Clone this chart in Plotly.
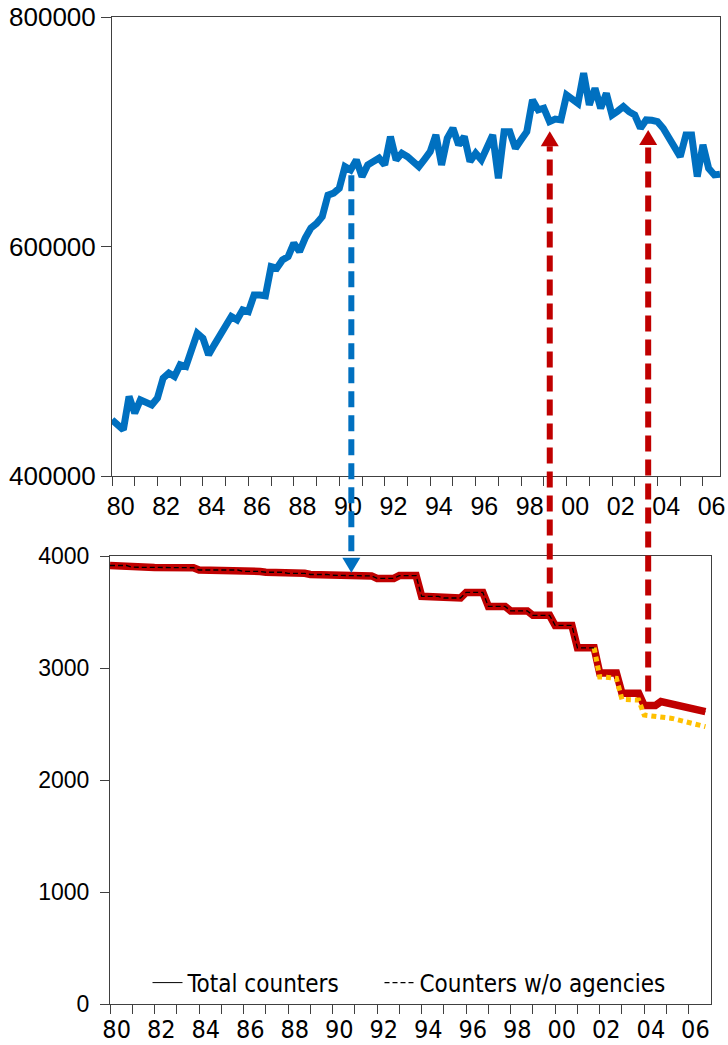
import plotly.graph_objects as go

# the page body margin is removed (see write_html below), so figure == page
PAGE_OFF = 0
FW, FH = 728 - PAGE_OFF, 1045 - PAGE_OFF

# ---------------- data ----------------
# quarterly time axis 1980Q1 .. 2006Q4
quarters = [1980 + k / 4 for k in range(108)]

top_values = [
    449000, 445000, 440300, 469300, 454800, 466400, 464500, 462000,
    467900, 485300, 489700, 486700, 496900, 495400, 510000, 524400,
    520100, 505600, 514300, 523000, 531000, 539000, 536100, 544800,
    543300, 557700, 557700, 557000, 582500, 581100, 588300, 591200,
    602900, 595600, 607300, 616000, 620000, 626000, 644800, 646500,
    650800, 669600, 666700, 675500, 660900, 671100, 674000, 677000,
    671100, 695800, 675500, 681300, 678300, 674000, 669600, 676000,
    682700, 697200, 671100, 694400, 703100, 688500, 695800, 674000,
    681300, 675500, 686000, 697200, 659500, 700100, 700100, 685600,
    693000, 700100, 727700, 719000, 720500, 708800, 711000, 710300,
    732100, 728000, 724800, 751000, 723400, 737900, 720500, 733500,
    714600, 718000, 721900, 717500, 714600, 703100, 710300, 710000,
    708800, 703100, 694400, 687000, 678300, 697200, 697200, 660900,
    688500, 668200, 662400, 663000,
]

total_counters = [
    3915, 3915, 3915, 3915, 3900, 3900, 3900, 3900,
    3898, 3898, 3898, 3898, 3895, 3895, 3895, 3895,
    3875, 3875, 3875, 3875, 3875, 3875, 3875, 3875,
    3862, 3862, 3862, 3862, 3855, 3855, 3855, 3855,
    3845, 3845, 3845, 3845, 3835, 3835, 3835, 3835,
    3828, 3828, 3828, 3828, 3822, 3822, 3822, 3822,
    3800, 3800, 3800, 3800, 3825, 3825, 3825, 3825,
    3640, 3640, 3640, 3640, 3625, 3625, 3625, 3625,
    3675, 3675, 3675, 3675, 3550, 3550, 3550, 3550,
    3510, 3510, 3510, 3510, 3470, 3470, 3470, 3470,
    3380, 3380, 3380, 3380, 3180, 3180, 3180, 3180,
    2955, 2955, 2955, 2955, 2775, 2775, 2775, 2775,
    2665, 2665, 2665, 2700, 2690, 2680, 2665, 2650,
    2635, 2625, 2615, 2610,
]

counters_wo_agencies = [
    3915, 3915, 3915, 3915, 3900, 3900, 3900, 3900,
    3898, 3898, 3898, 3898, 3895, 3895, 3895, 3895,
    3875, 3875, 3875, 3875, 3875, 3875, 3875, 3875,
    3862, 3862, 3862, 3862, 3855, 3855, 3855, 3855,
    3845, 3845, 3845, 3845, 3835, 3835, 3835, 3835,
    3828, 3828, 3828, 3828, 3822, 3822, 3822, 3822,
    3800, 3800, 3800, 3800, 3825, 3825, 3825, 3825,
    3640, 3640, 3640, 3640, 3625, 3625, 3625, 3625,
    3675, 3675, 3675, 3675, 3550, 3550, 3550, 3550,
    3510, 3510, 3510, 3510, 3470, 3470, 3470, 3470,
    3380, 3380, 3380, 3380, 3180, 3180, 3180, 3180,
    2920, 2918, 2912, 2907, 2720, 2718, 2716, 2714,
    2580, 2575, 2570, 2565, 2560, 2550, 2538, 2525,
    2510, 2498, 2487, 2476,
]
split_index = 87  # 2001Q4: where the agencies series departs from total

year_ticks = list(range(1980, 2007))
label_years = list(range(1980, 2007, 2))
label_text = [f"{y % 100:02d}" for y in label_years]

top_yticks = [400000, 600000, 800000]
bot_yticks = [0, 1000, 2000, 3000, 4000]

# arrows: (year, from-panel, from-value, to-panel, to-value, color)
arrows = [
    (1990.53, "top", 662000, "bot", 3850, "#0070C0"),
    (1999.26, "bot", 3540, "top", 700500, "#C00000"),
    (2003.59, "bot", 2790, "top", 701500, "#C00000"),
]


# ---------------- layout geometry (page pixels -> paper) ----------------
def px_x(p):
    return (p - PAGE_OFF) / FW


def px_y(p):
    return 1 - (p - PAGE_OFF) / FH


top_xdom = [px_x(112), px_x(720)]
top_ydom = [px_y(476), px_y(17)]
bot_xdom = [px_x(110), px_x(711)]
bot_ydom = [px_y(1004), px_y(556)]
top_xrange = [1980, 2006.75]
bot_xrange = [1980, 2007]
top_yrange = [400000, 800000]
bot_yrange = [0, 4000]

AX = "#404040"
FONT = "Liberation Sans, Arial, sans-serif"
NARROW = "DejaVu Sans Condensed, Liberation Sans Narrow, sans-serif"

fig = go.Figure()

fig.add_trace(go.Scatter(
    x=quarters, y=top_values, mode="lines",
    line=dict(color="#0070C0", width=7), showlegend=False,
    xaxis="x", yaxis="y"))

# legend carrier: thin black solid total (hidden beneath red)
fig.add_trace(go.Scatter(
    x=quarters, y=total_counters, mode="lines", name="Total counters",
    line=dict(color="black", width=1), xaxis="x2", yaxis="y2", legend="legend"))
fig.add_trace(go.Scatter(
    x=quarters, y=total_counters, mode="lines",
    line=dict(color="#C00000", width=7.5), showlegend=False,
    xaxis="x2", yaxis="y2"))
fig.add_trace(go.Scatter(
    x=quarters[split_index:], y=counters_wo_agencies[split_index:], mode="lines",
    line=dict(color="#FFC000", width=5, dash="5px,4px"), showlegend=False,
    xaxis="x2", yaxis="y2"))
fig.add_trace(go.Scatter(
    x=quarters[:split_index + 1], y=counters_wo_agencies[:split_index + 1], mode="lines",
    name="Counters w/o agencies",
    line=dict(color="black", width=1.3, dash="5px,3px"), xaxis="x2", yaxis="y2",
    legend="legend2"))


def xaxis_cfg(dom, rng, anchor, offset, font, pad):
    return dict(
        domain=dom, range=rng, anchor=anchor, showgrid=False, zeroline=False,
        automargin=False, ticklabeloverflow="allow",
        showline=True, linecolor=AX, linewidth=1, mirror=True,
        tickmode="array", tickvals=[y + offset for y in label_years], ticktext=label_text,
        ticks="outside", ticklen=pad, tickcolor="rgba(0,0,0,0)",
        tickfont=font,
        minor=dict(tickmode="array", tickvals=year_ticks, ticks="outside",
                   ticklen=9, tickcolor=AX, tickwidth=1, showgrid=False),
    )


legend_common = dict(orientation="h", xanchor="left", yanchor="middle",
                     font=dict(family=NARROW, size=24), bgcolor="rgba(0,0,0,0)")

fig.update_layout(
    width=FW, height=FH, autosize=False,
    margin=dict(l=0, r=0, t=0, b=0, pad=0),
    paper_bgcolor="white", plot_bgcolor="white",
    font=dict(family=FONT, color="black"),
    hovermode=False,
    xaxis=xaxis_cfg(top_xdom, top_xrange, "y", 0.38, dict(family=FONT, size=25), 8),
    yaxis=dict(domain=top_ydom, range=top_yrange, anchor="x", showgrid=False,
               automargin=False, ticklabeloverflow="allow",
               zeroline=False, showline=True, linecolor=AX, mirror=True,
               tickvals=top_yticks, tickformat="d", ticks="outside", ticklen=10, tickcolor=AX,
               tickfont=dict(family=FONT, size=26)),
    xaxis2=xaxis_cfg(bot_xdom, bot_xrange, "y2", 0.3, dict(family=NARROW, size=25), 3),
    yaxis2=dict(domain=bot_ydom, range=bot_yrange, anchor="x2", showgrid=False,
                automargin=False, ticklabeloverflow="allow",
                zeroline=False, showline=True, linecolor=AX, mirror=True,
                tickvals=bot_yticks, tickformat="d", ticks="outside", ticklen=9, tickcolor=AX,
                ticklabelstandoff=6,
                tickfont=dict(family=FONT, size=23)),
    legend=dict(x=px_x(188 - 40.5), y=px_y(983), **legend_common),
    legend2=dict(x=px_x(420 - 40.5), y=px_y(983), **legend_common),
)


def xp(year):
    return top_xdom[0] + (year - top_xrange[0]) / (top_xrange[1] - top_xrange[0]) * (top_xdom[1] - top_xdom[0])


def yp(panel, v):
    dom, rng = (top_ydom, top_yrange) if panel == "top" else (bot_ydom, bot_yrange)
    return dom[0] + (v - rng[0]) / (rng[1] - rng[0]) * (dom[1] - dom[0])


head_len = 15 / FH
head_hw = 9 / FW
shapes = []
for year, p0, v0, p1, v1, col in arrows:
    x = xp(year)
    y0 = yp(p0, v0)
    y1 = yp(p1, v1)
    direction = 1 if y1 > y0 else -1
    base = y1 - direction * head_len
    shapes.append(dict(type="line", xref="paper", yref="paper", x0=x, x1=x, y0=y0, y1=base,
                       line=dict(color=col, width=6, dash="16px,8px"), layer="above"))
    shapes.append(dict(type="path", xref="paper", yref="paper",
                       path=f"M {x - head_hw} {base} L {x + head_hw} {base} L {x} {y1} Z",
                       fillcolor=col, line=dict(color=col, width=0), layer="above"))
fig.update_layout(shapes=shapes)

fig.write_html("out.html", config={"displayModeBar": False},
               post_script="document.body.style.margin='0';document.body.style.padding='0';")
